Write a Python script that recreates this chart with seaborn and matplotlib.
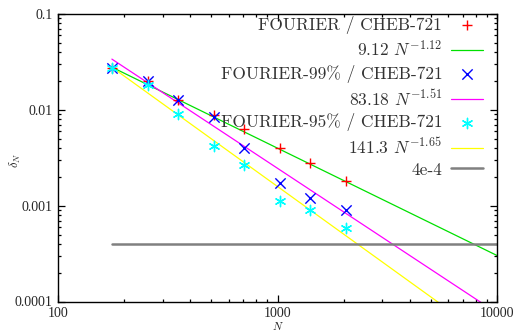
import numpy as np
import pandas as pd
import matplotlib
matplotlib.use("Agg")
import matplotlib.pyplot as plt
import seaborn as sns
from matplotlib.ticker import FuncFormatter, LogLocator

# ---- data ----
N = [176, 256, 352, 512, 704, 1024, 1408, 2048]
fourier = [0.0273, 0.0200, 0.0126, 0.0088, 0.0063, 0.0040, 0.0028, 0.00181]
fourier99 = [0.0273, 0.0200, 0.0126, 0.0084, 0.0040, 0.00172, 0.0012, 0.00090]
fourier95 = [0.0270, 0.0182, 0.0090, 0.0042, 0.00265, 0.00112, 0.00090, 0.00059]
fit_coef = [9.12, 83.18, 141.3]
fit_exp = [-1.12, -1.51, -1.65]
fit_labels = [r"9.12 $N^{-1.12}$", r"83.18 $N^{-1.51}$", r"141.3 $N^{-1.65}$"]
series_labels = ["FOURIER / CHEB-721", "FOURIER-99% / CHEB-721", "FOURIER-95% / CHEB-721"]
threshold = 4e-4
N_end = 10000
x_ticks = [100, 1000, 10000]
y_ticks = [0.0001, 0.001, 0.01, 0.1]

sns.set_style("ticks")
plt.rcParams["mathtext.fontset"] = "cm"
plt.rcParams["axes.unicode_minus"] = False

fig = plt.figure(figsize=(5.13, 3.32), dpi=100)
W, H = 513, 332
ax = fig.add_axes([58 / W, (H - 301.5) / H, (497 - 58) / W, (301.5 - 14) / H])

ser_colors = ["#ff0000", "#0000ff", "#00ffff"]
ser_markers = ["+", "x", (6, 2, 0)]
fit_colors = ["#00e000", "#ff00ff", "#ffff00"]
series_vals = [fourier, fourier99, fourier95]

for i in range(3):
    df = pd.DataFrame({"N": N, "d": series_vals[i]})
    sns.scatterplot(data=df, x="N", y="d", ax=ax, marker=ser_markers[i],
                    color=ser_colors[i], s=55, linewidth=1.0, label=series_labels[i],
                    zorder=3)
    Nf = [N[0], N_end]
    dff = pd.DataFrame({"N": Nf, "d": [fit_coef[i] * n ** fit_exp[i] for n in Nf]})
    sns.lineplot(data=dff, x="N", y="d", ax=ax, color=fit_colors[i], linewidth=0.9,
                 label=fit_labels[i], zorder=2)
dft = pd.DataFrame({"N": [N[0], N_end], "d": [threshold, threshold]})
sns.lineplot(data=dft, x="N", y="d", ax=ax, color="#808080", linewidth=1.8,
             label="4e-4", zorder=2)

ax.set_xscale("log")
ax.set_yscale("log")
ax.set_xlim(100, 10000)
ax.set_ylim(0.0001, 0.1)
ax.set_xticks(x_ticks)
ax.set_yticks(y_ticks)
fmt = FuncFormatter(lambda v, p: "%g" % v)
ax.xaxis.set_major_formatter(fmt)
ax.yaxis.set_major_formatter(fmt)
ax.xaxis.set_minor_locator(LogLocator(base=10, subs=np.arange(2, 10)))
ax.yaxis.set_minor_locator(LogLocator(base=10, subs=np.arange(2, 10)))
ax.xaxis.set_minor_formatter(FuncFormatter(lambda v, p: ""))
ax.yaxis.set_minor_formatter(FuncFormatter(lambda v, p: ""))
ax.tick_params(which="both", direction="in", top=True, right=True, width=0.9,
               color="black")
ax.tick_params(which="major", length=5)
ax.tick_params(which="minor", length=2.5)
for lab in ax.get_xticklabels() + ax.get_yticklabels():
    lab.set_fontfamily("Liberation Serif")
    lab.set_fontsize(10)
ax.tick_params(axis="x", pad=4)
ax.tick_params(axis="y", pad=4)
for sp in ax.spines.values():
    sp.set_linewidth(1.0)
    sp.set_color("black")

ax.set_xlabel(r"$N$", fontsize=8)
ax.set_ylabel(r"$\delta_N$", fontsize=9)
ax.xaxis.set_label_coords(0.5, -(325.5 - 301.5) / 287.5)
ax.yaxis.set_label_coords((15 - 58) / 439, 1 - (160 - 14) / 287.5)
ax.xaxis.label.set_va("center")
ax.yaxis.label.set_va("center")

leg = ax.legend(loc="upper right", bbox_to_anchor=((483 - 58) / 439, 1 - (16 - 14) / 287.5),
                frameon=False, markerfirst=False, borderaxespad=0, borderpad=0,
                handlelength=1.85, handletextpad=0.5, labelspacing=0.3,
                prop={"family": "cmr10", "size": 12.5})
for t in leg.get_texts():
    t.set_color("#333333")

fig.savefig("out.png", dpi=100)
